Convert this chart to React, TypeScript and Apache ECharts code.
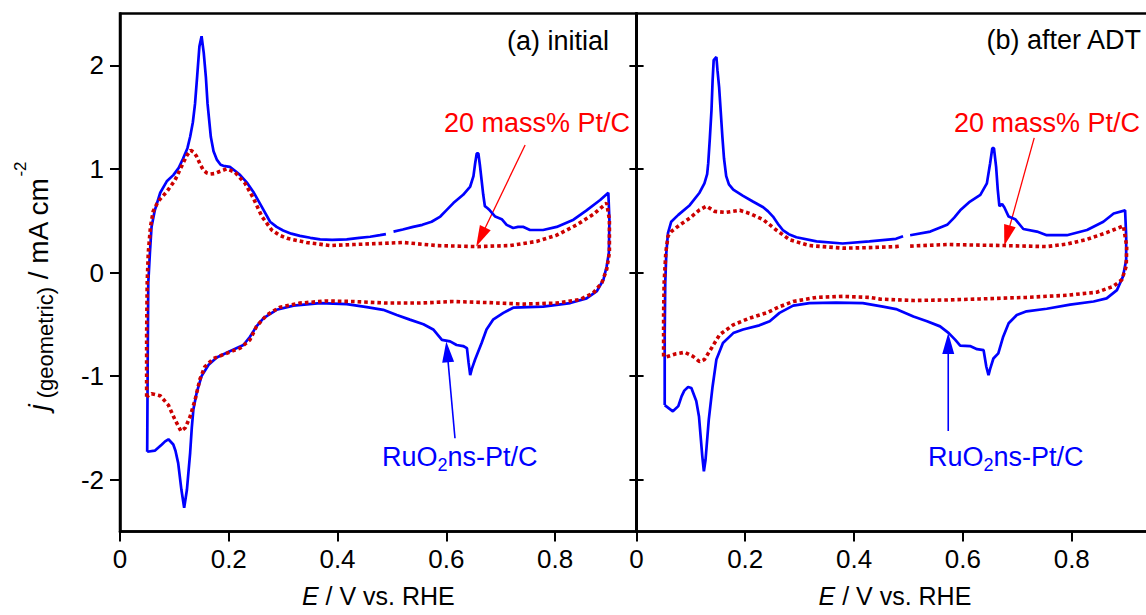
import React, { useEffect, useRef } from "react";
import * as echarts from "echarts";

const FONT = '"Liberation Sans", Arial, Helvetica, sans-serif';

const xTicks = [0, 0.2, 0.4, 0.6, 0.8];
const yTicks = [-2, -1, 0, 1, 2];
const xRange = [0, 0.95];
const yRange = [-2.5, 2.5];

const panelTitles = ["(a) initial", "(b) after ADT"];
const redName = "20 mass% Pt/C";

// (a) initial – RuO2ns-Pt/C  [E (V), j (mA cm-2)]
const blueInitial: (number | null)[][] = [
  [0.050,-1.73],[0.051,-0.8],[0.052,-0.1],[0.055,0.19],[0.058,0.44],[0.064,0.60],[0.074,0.77],[0.086,0.88],
  [0.098,0.94],[0.108,1.01],[0.116,1.10],[0.124,1.20],[0.129,1.31],[0.134,1.45],[0.138,1.63],[0.142,1.90],
  [0.146,2.18],[0.150,2.28],[0.154,2.12],[0.158,1.88],[0.161,1.63],[0.167,1.31],[0.172,1.17],[0.178,1.09],
  [0.185,1.04],[0.190,1.03],[0.202,1.02],[0.212,0.98],[0.221,0.94],[0.233,0.87],[0.245,0.78],[0.260,0.64],
  [0.276,0.49],[0.288,0.44],[0.300,0.405],[0.315,0.375],[0.331,0.354],[0.350,0.335],[0.368,0.32],[0.390,0.315],
  [0.417,0.32],[0.440,0.335],[0.460,0.345],[0.478,0.36],[0.489,0.37],[0.495,null],[0.503,0.395],[0.520,0.415],
  [0.539,0.44],[0.556,0.46],[0.573,0.49],[0.589,0.54],[0.600,0.60],[0.613,0.67],[0.631,0.75],[0.644,0.83],
  [0.650,0.93],[0.653,1.05],[0.656,1.15],[0.659,1.15],[0.662,1.03],[0.665,0.89],[0.668,0.75],[0.671,0.64],
  [0.676,0.62],[0.680,0.60],[0.690,0.54],[0.702,0.515],[0.711,0.46],[0.723,0.43],[0.732,0.44],[0.742,0.44],
  [0.754,0.41],[0.778,0.41],[0.803,0.44],[0.834,0.51],[0.858,0.60],[0.883,0.70],[0.898,0.77],
  [0.900,0.51],[0.899,0.19],[0.895,0.06],[0.889,-0.07],[0.877,-0.18],[0.858,-0.25],[0.828,-0.295],[0.778,-0.33],
  [0.723,-0.34],[0.705,-0.39],[0.686,-0.455],[0.674,-0.55],[0.665,-0.68],[0.653,-0.84],[0.647,-0.93],[0.644,-0.99],
  [0.641,-0.87],[0.638,-0.73],[0.631,-0.71],[0.619,-0.70],[0.607,-0.665],[0.592,-0.65],[0.576,-0.55],[0.558,-0.50],
  [0.533,-0.455],[0.509,-0.41],[0.484,-0.36],[0.454,-0.335],[0.417,-0.305],[0.368,-0.295],[0.319,-0.32],[0.288,-0.36],
  [0.264,-0.44],[0.251,-0.52],[0.239,-0.62],[0.227,-0.70],[0.202,-0.76],[0.178,-0.82],[0.163,-0.89],[0.150,-1.00],
  [0.141,-1.16],[0.135,-1.32],[0.132,-1.50],[0.129,-1.74],[0.123,-2.10],[0.118,-2.27],[0.113,-2.10],[0.107,-1.84],
  [0.102,-1.72],[0.098,-1.66],[0.089,-1.61],[0.083,-1.63],[0.077,-1.66],[0.064,-1.72],[0.050,-1.73]
];

// (a) initial – 20 mass% Pt/C
const redInitial: (number | null)[][] = [
  [0.049,-1.20],[0.049,-0.6],[0.050,-0.1],[0.052,0.19],[0.056,0.44],[0.061,0.59],[0.070,0.685],[0.086,0.78],
  [0.101,0.89],[0.116,1.055],[0.123,1.13],[0.130,1.18],[0.136,1.16],[0.141,1.12],[0.147,1.05],[0.153,0.99],
  [0.160,0.96],[0.166,0.95],[0.174,0.955],[0.181,0.97],[0.196,1.00],[0.211,0.97],[0.230,0.86],[0.245,0.72],
  [0.261,0.54],[0.279,0.41],[0.293,0.36],[0.307,0.33],[0.343,0.29],[0.386,0.26],[0.429,0.27],[0.478,0.28],
  [0.521,0.29],[0.582,0.26],[0.656,0.25],[0.717,0.26],[0.766,0.30],[0.803,0.36],[0.840,0.46],[0.870,0.56],
  [0.895,0.67],[0.900,0.51],[0.900,0.19],[0.895,0.03],[0.886,-0.10],[0.870,-0.20],[0.846,-0.26],[0.803,-0.295],
  [0.742,-0.305],[0.674,-0.29],[0.613,-0.28],[0.552,-0.295],[0.490,-0.295],[0.429,-0.28],[0.380,-0.275],[0.331,-0.295],
  [0.294,-0.335],[0.270,-0.41],[0.251,-0.52],[0.239,-0.65],[0.221,-0.73],[0.196,-0.78],[0.172,-0.83],[0.156,-0.91],
  [0.147,-1.03],[0.138,-1.23],[0.129,-1.39],[0.120,-1.50],[0.112,-1.53],[0.101,-1.42],[0.089,-1.28],[0.074,-1.19],
  [0.058,-1.17],[0.049,-1.20]
];

// (b) after ADT – RuO2ns-Pt/C
const blueAfter: (number | null)[][] = [
  [0.052,-1.28],[0.052,-0.6],[0.053,-0.1],[0.055,0.19],[0.058,0.38],[0.064,0.49],[0.077,0.556],[0.098,0.65],
  [0.116,0.77],[0.125,0.86],[0.130,0.95],[0.132,1.055],[0.135,1.30],[0.138,1.57],[0.140,1.85],[0.142,2.05],
  [0.147,2.08],[0.149,1.95],[0.152,1.79],[0.155,1.55],[0.158,1.31],[0.161,1.10],[0.165,0.93],[0.170,0.85],
  [0.178,0.80],[0.196,0.74],[0.214,0.685],[0.233,0.63],[0.242,0.59],[0.251,0.54],[0.260,0.47],[0.269,0.41],
  [0.280,0.37],[0.294,0.34],[0.331,0.30],[0.379,0.28],[0.428,0.30],[0.477,0.325],[0.490,0.35],[0.497,null],
  [0.503,0.36],[0.540,0.395],[0.571,0.46],[0.584,0.53],[0.595,0.60],[0.613,0.685],[0.632,0.75],[0.644,0.86],
  [0.650,1.055],[0.654,1.20],[0.657,1.20],[0.661,1.02],[0.664,0.80],[0.667,0.64],[0.672,0.66],[0.676,0.63],
  [0.684,0.54],[0.696,0.515],[0.711,0.42],[0.736,0.395],[0.754,0.36],[0.791,0.36],[0.828,0.41],[0.858,0.49],
  [0.877,0.57],[0.898,0.60],[0.900,0.35],[0.900,0.12],[0.894,-0.04],[0.883,-0.17],[0.864,-0.25],[0.840,-0.28],
  [0.797,-0.31],[0.754,-0.35],[0.717,-0.375],[0.699,-0.41],[0.684,-0.49],[0.674,-0.62],[0.665,-0.78],[0.656,-0.83],
  [0.650,-0.93],[0.647,-0.99],[0.643,-0.91],[0.638,-0.75],[0.626,-0.74],[0.613,-0.71],[0.595,-0.705],[0.586,-0.65],
  [0.574,-0.585],[0.558,-0.52],[0.534,-0.47],[0.509,-0.425],[0.477,-0.353],[0.453,-0.33],[0.416,-0.295],[0.367,-0.29],
  [0.318,-0.295],[0.288,-0.32],[0.263,-0.39],[0.245,-0.47],[0.226,-0.51],[0.196,-0.55],[0.178,-0.585],[0.159,-0.68],
  [0.147,-0.84],[0.140,-1.10],[0.133,-1.42],[0.127,-1.81],[0.124,-1.92],[0.121,-1.77],[0.115,-1.39],[0.110,-1.24],
  [0.101,-1.115],[0.095,-1.105],[0.088,-1.14],[0.083,-1.195],[0.077,-1.29],[0.067,-1.34],[0.052,-1.28]
];

// (b) after ADT – 20 mass% Pt/C
const redAfter: (number | null)[][] = [
  [0.050,-0.81],[0.050,-0.4],[0.051,-0.1],[0.054,0.19],[0.058,0.35],[0.064,0.395],[0.080,0.46],[0.098,0.525],
  [0.116,0.605],[0.129,0.64],[0.144,0.59],[0.165,0.58],[0.190,0.60],[0.208,0.57],[0.233,0.51],[0.257,0.41],
  [0.282,0.315],[0.318,0.26],[0.379,0.235],[0.428,0.24],[0.477,0.25],[0.486,0.255],[0.494,null],[0.503,0.255],
  [0.571,0.27],[0.675,0.26],[0.754,0.25],[0.791,0.275],[0.828,0.32],[0.864,0.385],[0.895,0.45],[0.901,0.25],
  [0.900,0.06],[0.892,-0.07],[0.876,-0.135],[0.846,-0.19],[0.791,-0.22],[0.717,-0.24],[0.632,-0.255],[0.571,-0.265],
  [0.509,-0.27],[0.448,-0.257],[0.428,-0.24],[0.379,-0.23],[0.331,-0.24],[0.288,-0.28],[0.263,-0.33],[0.239,-0.39],
  [0.208,-0.44],[0.178,-0.505],[0.153,-0.60],[0.138,-0.73],[0.125,-0.84],[0.116,-0.86],[0.104,-0.81],[0.089,-0.77],
  [0.073,-0.785],[0.055,-0.815],[0.050,-0.81]
];

// annotation arrows [tail, tip] in data coordinates, per panel
const redArrows = [
  [[0.745, 1.23], [0.655, 0.25]],
  [[0.731, 1.30], [0.676, 0.257]],
];
const blueArrows = [
  [[0.616, -1.60], [0.600, -0.665]],
  [[0.573, -1.53], [0.573, -0.585]],
];

const BLUE = "#0000ff";
const RED_LINE = "#cc0000";
const RED_TEXT = "#ff0000";

function measure(text: string, size: number, style = "normal") {
  const c = document.createElement("canvas").getContext("2d")!;
  c.font = `${style} ${size}px ${FONT}`;
  return c.measureText(text).width;
}

function arrow(p0: number[], p1: number[], color: string, lw: number) {
  const L = 21, W = 12;
  const dx = p1[0] - p0[0], dy = p1[1] - p0[1];
  const len = Math.hypot(dx, dy);
  const ux = dx / len, uy = dy / len;
  const bx = p1[0] - ux * L, by = p1[1] - uy * L;
  const px = -uy, py = ux;
  return [
    { type: "line", silent: true, shape: { x1: p0[0], y1: p0[1], x2: bx + ux * 2, y2: by + uy * 2 }, style: { stroke: color, lineWidth: lw } },
    { type: "polygon", silent: true, shape: { points: [[p1[0], p1[1]], [bx + px * W / 2, by + py * W / 2], [bx - px * W / 2, by - py * W / 2]] }, style: { fill: color } },
  ];
}

export default function App() {
  const ref = useRef<HTMLDivElement>(null);
  useEffect(() => {
    const chart = echarts.init(ref.current!, null, { renderer: "svg" });
    const axisLine = { show: true, onZero: false, lineStyle: { color: "#000", width: 2.5 } };
    const fmt = (v: number) => String(+(+v).toFixed(2));
    const xAxis = (g: number) => ({
      type: "value", gridIndex: g, min: xRange[0], max: xRange[1],
      axisLine,
      axisTick: { show: true, customValues: xTicks, length: 10, lineStyle: { color: "#000", width: 2 } },
      axisLabel: { show: true, customValues: xTicks, formatter: fmt, fontSize: 26, color: "#000", fontFamily: FONT, margin: 14 },
      splitLine: { show: false },
      name: "{i|E} / V vs. RHE", nameLocation: "middle", nameGap: 52,
      nameTextStyle: { fontSize: 25, color: "#000", fontFamily: FONT, rich: { i: { fontStyle: "italic", fontSize: 25, color: "#000", fontFamily: FONT } } },
    });
    const yAxis = (g: number, pos: string, labels: boolean, tickLen: number) => ({
      type: "value", gridIndex: g, min: yRange[0], max: yRange[1], position: pos,
      axisLine,
      axisTick: { show: true, customValues: yTicks, length: tickLen, lineStyle: { color: "#000", width: 2 } },
      axisLabel: { show: labels, customValues: yTicks, formatter: fmt, fontSize: 26, color: "#000", fontFamily: FONT, margin: 16 },
      splitLine: { show: false },
    });
    const blueStyle = { color: BLUE, width: 2.7 };
    const redStyle = { color: RED_LINE, width: 3.6, type: [3.6, 3], cap: "butt" };
    const line = (data: any, xi: number, yi: number, ls: any, z: number) => ({
      type: "line", xAxisIndex: xi, yAxisIndex: yi, data, symbol: "none", showSymbol: false,
      lineStyle: ls, z, silent: true, connectNulls: false,
    });
    chart.setOption({
      animation: false,
      backgroundColor: "#fff",
      grid: [
        { left: 120, top: 13.5, width: 516.6, height: 518, show: true, borderColor: "#000", borderWidth: 2.5 },
        { left: 636.4, top: 13.5, width: 517, height: 518, show: true, borderColor: "#000", borderWidth: 2.5 },
      ],
      xAxis: [xAxis(0), xAxis(1)],
      yAxis: [yAxis(0, "left", true, 10), yAxis(1, "left", false, 7), yAxis(0, "right", false, 7)],
      series: [
        line(blueInitial, 0, 0, blueStyle, 2),
        line(redInitial, 0, 0, redStyle, 3),
        line(blueAfter, 1, 1, blueStyle, 2),
        line(redAfter, 1, 1, redStyle, 3),
      ],
    });

    const toPx = (g: number, p: number[]) => chart.convertToPixel({ gridIndex: g } as any, p) as number[];
    const graphics: any[] = [];
    [0, 1].forEach((g) => {
      const ra = redArrows[g], ba = blueArrows[g];
      graphics.push(...arrow(toPx(g, ra[0]), toPx(g, ra[1]), RED_TEXT, 1.3));
      graphics.push(...arrow(toPx(g, ba[0]), toPx(g, ba[1]), BLUE, 1.6));
    });
    const txt = (x: number, y: number, text: string, align: string, fill: string, size = 27) => ({
      type: "text", silent: true, x, y,
      style: { text, align, verticalAlign: "middle", fontSize: size, fontFamily: FONT, fill },
    });
    graphics.push(txt(609, 41, panelTitles[0], "right", "#000"));
    graphics.push(txt(1141, 40, panelTitles[1], "right", "#000"));
    graphics.push(txt(630, 123, redName, "right", RED_TEXT));
    graphics.push(txt(1140, 123, redName, "right", RED_TEXT));
    const ru = (x: number) => ({
      type: "text", silent: true, x, y: 457,
      style: {
        text: "{a|RuO}{s|2}{a|ns-Pt/C}", align: "left", verticalAlign: "middle", fontSize: 27, fontFamily: FONT, fill: BLUE,
        rich: {
          a: { fontSize: 27, fontFamily: FONT, fill: BLUE, lineHeight: 34, verticalAlign: "middle" },
          s: { fontSize: 18, fontFamily: FONT, fill: BLUE, lineHeight: 18, verticalAlign: "bottom" },
        },
      },
    });
    graphics.push(ru(382), ru(928));

    // y-axis title, rotated
    const parts = [
      { t: "j", size: 28, st: "italic", base: 0 },
      { t: " (geometric)", size: 22, st: "normal", base: 5 },
      { t: " / mA cm", size: 28, st: "normal", base: 0 },
      { t: "-2", size: 17, st: "normal", base: -21 },
    ];
    const widths = parts.map((p) => measure(p.t, p.size, p.st));
    const total = widths.reduce((a, b) => a + b, 0);
    let cx = -total / 2;
    const children = parts.map((p, i) => {
      const el = {
        type: "text", silent: true, x: cx, y: p.base - 0.3 * p.size,
        style: { text: p.t, align: "left", verticalAlign: "middle", fontSize: p.size, fontStyle: p.st, fontFamily: FONT, fill: "#000" },
      };
      cx += widths[i];
      return el;
    });
    graphics.push({ type: "group", x: 47, y: 286, rotation: Math.PI / 2, children });

    chart.setOption({ graphic: graphics });
    return () => chart.dispose();
  }, []);
  return (
    <div style={{ position: "fixed", left: 0, top: 0, width: 1146, height: 615, overflow: "hidden", background: "#fff" }}>
      <div ref={ref} style={{ width: 1160, height: 615 }} />
    </div>
  );
}
